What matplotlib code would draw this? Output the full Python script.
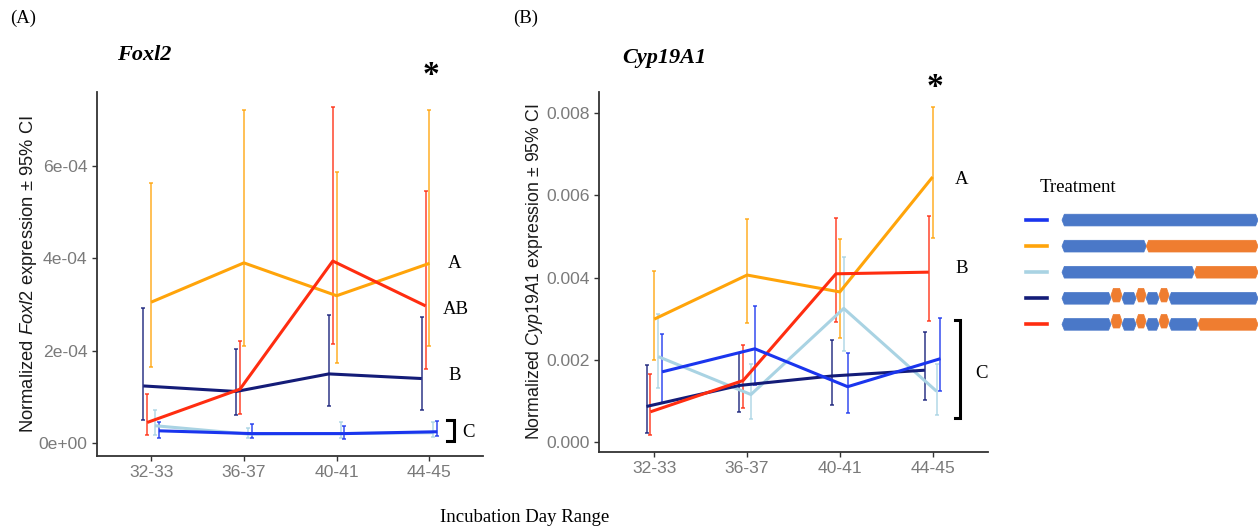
import numpy as np
import matplotlib
matplotlib.use("Agg")
import matplotlib.pyplot as plt
from matplotlib.patches import Polygon
from matplotlib.lines import Line2D

plt.rcParams['font.family'] = ['Liberation Sans', 'DejaVu Sans']
plt.rcParams['mathtext.fontset'] = 'custom'
plt.rcParams['mathtext.rm'] = 'Liberation Sans'
plt.rcParams['mathtext.it'] = 'Liberation Sans:italic'

# ---------------- data ----------------
days = ["32-33", "36-37", "40-41", "44-45"]
treatments = ["blue", "orange", "lightblue", "navy", "red"]
line_colors = {"blue": "#1a35ee", "orange": "#ffa40a", "lightblue": "#a9d3e3",
               "navy": "#141c78", "red": "#ff2d10"}
dodge_rank = {"navy": -2, "red": -1, "orange": 0, "lightblue": 1, "blue": 2}

# Foxl2
foxl2_blue_mean = [0.27e-4, 0.21e-4, 0.21e-4, 0.25e-4]
foxl2_blue_lo = [0.12e-4, 0.11e-4, 0.10e-4, 0.16e-4]
foxl2_blue_hi = [0.47e-4, 0.42e-4, 0.37e-4, 0.48e-4]
foxl2_orange_mean = [3.05e-4, 3.90e-4, 3.19e-4, 3.89e-4]
foxl2_orange_lo = [1.66e-4, 2.11e-4, 1.73e-4, 2.11e-4]
foxl2_orange_hi = [5.63e-4, 7.20e-4, 5.87e-4, 7.20e-4]
foxl2_lightblue_mean = [0.38e-4, 0.20e-4, 0.21e-4, 0.23e-4]
foxl2_lightblue_lo = [0.18e-4, 0.11e-4, 0.11e-4, 0.13e-4]
foxl2_lightblue_hi = [0.72e-4, 0.33e-4, 0.47e-4, 0.47e-4]
foxl2_navy_mean = [1.24e-4, 1.12e-4, 1.50e-4, 1.40e-4]
foxl2_navy_lo = [0.51e-4, 0.61e-4, 0.81e-4, 0.71e-4]
foxl2_navy_hi = [2.93e-4, 2.04e-4, 2.77e-4, 2.72e-4]
foxl2_red_mean = [0.45e-4, 1.17e-4, 3.94e-4, 2.97e-4]
foxl2_red_lo = [0.18e-4, 0.64e-4, 2.14e-4, 1.61e-4]
foxl2_red_hi = [1.06e-4, 2.21e-4, 7.26e-4, 5.45e-4]

# Cyp19A1
cyp_blue_mean = [1.71e-3, 2.27e-3, 1.35e-3, 2.03e-3]
cyp_blue_lo = [0.95e-3, 1.40e-3, 0.71e-3, 1.24e-3]
cyp_blue_hi = [2.62e-3, 3.31e-3, 2.16e-3, 3.02e-3]
cyp_orange_mean = [2.99e-3, 4.06e-3, 3.65e-3, 6.44e-3]
cyp_orange_lo = [2.00e-3, 2.90e-3, 2.54e-3, 4.97e-3]
cyp_orange_hi = [4.15e-3, 5.42e-3, 4.94e-3, 8.13e-3]
cyp_lightblue_mean = [2.08e-3, 1.16e-3, 3.25e-3, 1.24e-3]
cyp_lightblue_lo = [1.32e-3, 0.57e-3, 2.21e-3, 0.66e-3]
cyp_lightblue_hi = [3.12e-3, 1.91e-3, 4.50e-3, 1.90e-3]
cyp_navy_mean = [0.87e-3, 1.38e-3, 1.61e-3, 1.75e-3]
cyp_navy_lo = [0.23e-3, 0.73e-3, 0.90e-3, 1.02e-3]
cyp_navy_hi = [1.88e-3, 2.16e-3, 2.48e-3, 2.68e-3]
cyp_red_mean = [0.74e-3, 1.50e-3, 4.09e-3, 4.13e-3]
cyp_red_lo = [0.17e-3, 0.83e-3, 2.92e-3, 2.95e-3]
cyp_red_hi = [1.67e-3, 2.36e-3, 5.45e-3, 5.50e-3]

foxl2 = {
    "blue": (foxl2_blue_mean, foxl2_blue_lo, foxl2_blue_hi),
    "orange": (foxl2_orange_mean, foxl2_orange_lo, foxl2_orange_hi),
    "lightblue": (foxl2_lightblue_mean, foxl2_lightblue_lo, foxl2_lightblue_hi),
    "navy": (foxl2_navy_mean, foxl2_navy_lo, foxl2_navy_hi),
    "red": (foxl2_red_mean, foxl2_red_lo, foxl2_red_hi),
}
cyp = {
    "blue": (cyp_blue_mean, cyp_blue_lo, cyp_blue_hi),
    "orange": (cyp_orange_mean, cyp_orange_lo, cyp_orange_hi),
    "lightblue": (cyp_lightblue_mean, cyp_lightblue_lo, cyp_lightblue_hi),
    "navy": (cyp_navy_mean, cyp_navy_lo, cyp_navy_hi),
    "red": (cyp_red_mean, cyp_red_lo, cyp_red_hi),
}

foxl2_yticks = [0, 2e-4, 4e-4, 6e-4]
foxl2_yticklabels = ["0e+00", "2e-04", "4e-04", "6e-04"]
cyp_yticks = [0, 0.002, 0.004, 0.006, 0.008]
cyp_yticklabels = ["0.000", "0.002", "0.004", "0.006", "0.008"]

# Legend schedule diagrams: (start, end, colour, raised)
B, O = "#4a78c8", "#ef7d30"
schedules = {
    "blue": [(0, 100, B, False)],
    "orange": [(0, 43, B, False), (43, 100, O, False)],
    "lightblue": [(0, 67.5, B, False), (67.5, 100, O, False)],
    "navy": [(0, 25, B, False), (25, 30.6, O, True), (30.6, 37.8, B, False),
             (37.8, 42.9, O, True), (42.9, 49.5, B, False), (49.5, 54.6, O, True),
             (54.6, 100, B, False)],
    "red": [(0, 25, B, False), (25, 30.6, O, True), (30.6, 37.8, B, False),
            (37.8, 42.9, O, True), (42.9, 49.5, B, False), (49.5, 54.6, O, True),
            (54.6, 69.4, B, False), (69.4, 100, O, False)],
}

# ---------------- figure ----------------
W, H = 1259, 531
fig = plt.figure(figsize=(W / 100, H / 100), dpi=100)
fig.patch.set_facecolor("white")

ax1 = fig.add_axes([96.7 / W, 1 - 455.7 / H, 386.6 / W, 364 / H])
ax2 = fig.add_axes([599 / W, 1 - 451.7 / H, 389.3 / W, 360 / H])

x = np.arange(1, len(days) + 1)
dw = 0.042
tick_col = "#7a7a7a"
spine_col = "#333333"


def draw_panel(ax, data, yticks, yticklabels, ylim, xlim):
    for t in ["navy", "red", "orange", "lightblue", "blue"]:
        m, lo, hi = (np.array(v) for v in data[t])
        xs = x + dodge_rank[t] * dw
        ax.errorbar(xs, m, yerr=[m - lo, hi - m], fmt="none",
                    ecolor=line_colors[t], elinewidth=1.3, capsize=1.6,
                    capthick=1.3, alpha=0.75, zorder=2)
    for t in ["lightblue", "navy", "orange", "red", "blue"]:
        m = np.array(data[t][0])
        xs = x + dodge_rank[t] * dw
        ax.plot(xs, m, color=line_colors[t], lw=2.2, zorder=3,
                solid_capstyle="butt")
    ax.set_xlim(*xlim)
    ax.set_ylim(*ylim)
    ax.set_xticks(x)
    ax.set_xticklabels(days)
    ax.set_yticks(yticks)
    ax.set_yticklabels(yticklabels)
    for s in ["top", "right"]:
        ax.spines[s].set_visible(False)
    for s in ["left", "bottom"]:
        ax.spines[s].set_color(spine_col)
        ax.spines[s].set_linewidth(1.3)
    ax.tick_params(axis="both", colors=spine_col, length=3.5, width=1.0,
                   labelsize=12.6, labelcolor=tick_col, pad=3)


draw_panel(ax1, foxl2, foxl2_yticks, foxl2_yticklabels,
           (-2.68e-5, 7.60e-4), (0.414, 4.58))
draw_panel(ax2, cyp, cyp_yticks, cyp_yticklabels,
           (-2.28e-4, 8.51e-3), (0.404, 4.60))

ax1.set_ylabel(r"Normalized $\mathit{Foxl2}$ expression ± 95% CI",
               fontsize=13.2, color="#1a1a1a")
ax1.yaxis.set_label_coords(-0.149, 0.5)
ax2.set_ylabel(r"Normalized $\mathit{Cyp19A1}$ expression ± 95% CI",
               fontsize=12.8, color="#1a1a1a")
ax2.yaxis.set_label_coords(-0.139, 0.5)

serif = "Liberation Serif"
# panel titles
fig.text(117 / W, 1 - 55 / H, "Foxl2", family=serif, weight="bold",
         style="italic", fontsize=16, va="center", ha="left")
fig.text(622 / W, 1 - 58 / H, "Cyp19A1", family=serif, weight="bold",
         style="italic", fontsize=16, va="center", ha="left")
fig.text(10 / W, 1 - 18 / H, "(A)", family=serif, fontsize=13.5, va="center")
fig.text(513 / W, 1 - 18 / H, "(B)", family=serif, fontsize=13.5, va="center")
fig.text(525 / W, 1 - 517 / H, "Incubation Day Range", family=serif,
         fontsize=13.5, ha="center", va="center")

# group letters & significance
lt = dict(family=serif, fontsize=13.5, va="center", ha="center", clip_on=False)
ax1.text(4.27, 3.88e-4, "A", **lt)
ax1.text(4.28, 2.90e-4, "AB", **lt)
ax1.text(4.27, 1.46e-4, "B", **lt)
ax1.text(4.42, 0.24e-4, "C", **lt)
ax1.text(4.02, 7.95e-4, "*", family=serif, fontsize=24, weight="bold",
         ha="center", va="center", clip_on=False)
ax1.plot([4.19, 4.26, 4.26, 4.19], [0.50e-4, 0.50e-4, 0.05e-4, 0.05e-4],
         color="black", lw=2.2, clip_on=False, solid_joinstyle="miter")

ax2.text(4.315, 6.39e-3, "A", **lt)
ax2.text(4.315, 4.23e-3, "B", **lt)
ax2.text(4.53, 1.68e-3, "C", **lt)
ax2.text(4.02, 8.62e-3, "*", family=serif, fontsize=24, weight="bold",
         ha="center", va="center", clip_on=False)
ax2.plot([4.24, 4.295, 4.295, 4.24], [2.97e-3, 2.97e-3, 0.59e-3, 0.59e-3],
         color="black", lw=2.2, clip_on=False, solid_joinstyle="miter")

# ---------------- legend ----------------
fig.text(1040 / W, 1 - 188 / H, "Treatment", family=serif, fontsize=13.5,
         va="center", ha="left")
lax = fig.add_axes([1022 / W, 1 - 340 / H, 236 / W, 140 / H])
lax.set_xlim(-20.4, 100)
lax.set_ylim(4.6, -0.77)
lax.axis("off")


def arrow_bar(ax, x0, x1, yc, h, color):
    tip = min(1.2, (x1 - x0) / 3)
    pts = [(x0, yc), (x0 + tip, yc - h / 2), (x1 - tip, yc - h / 2),
           (x1, yc), (x1 - tip, yc + h / 2), (x0 + tip, yc + h / 2)]
    ax.add_patch(Polygon(pts, closed=True, facecolor=color,
                         edgecolor=color, lw=0.5))


for i, t in enumerate(treatments):
    lax.add_line(Line2D([-18.4, -7.8], [i, i], color=line_colors[t], lw=2.6))
    for (s, e, c, raised) in schedules[t]:
        if raised:
            arrow_bar(lax, s, e, i - 0.12, 0.52, c)
        else:
            arrow_bar(lax, s, e, i, 0.45, c)

fig.savefig("out.png", dpi=100, facecolor="white")
